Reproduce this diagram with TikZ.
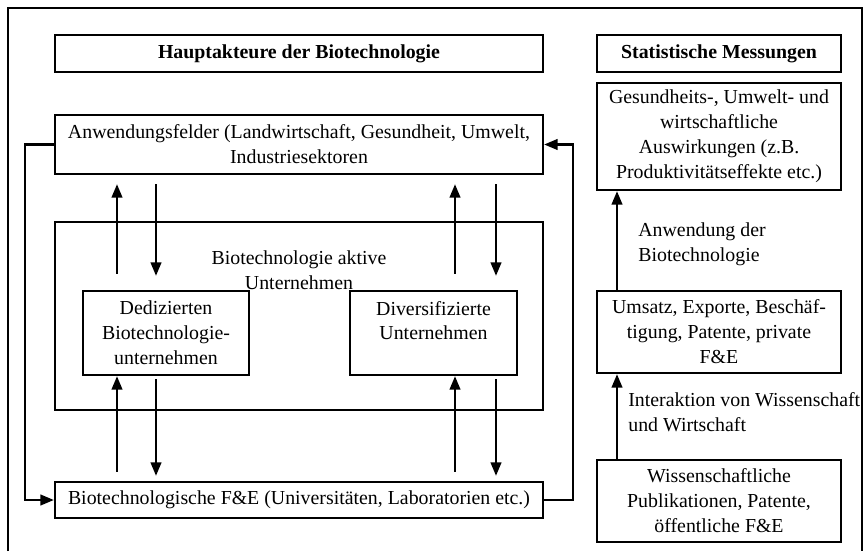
\documentclass[tikz,border=0pt]{standalone}
\usepackage{fontspec}
\setmainfont{Liberation Serif}
\usetikzlibrary{arrows.meta}
\tikzset{
  txt/.style={font=\fontsize{11.3}{14.2}\selectfont},
  box/.style={txt, draw, line width=1.3pt, align=center, inner sep=0pt},
  lbl/.style={txt, align=left, inner sep=0pt},
  arr/.style={line width=1.4pt, -{Triangle[length=0.27cm,width=0.21cm]}}
}
\begin{document}
\begin{tikzpicture}[x=0.02cm,y=-0.02cm]
\useasboundingbox (0,0) rectangle (865,551);
\draw[line width=1.4pt] (8,551) -- (8,8) -- (862,8) -- (862,551);
\node[box,minimum width=9.76cm,minimum height=0.74cm,font=\bfseries\fontsize{11.3}{14.2}\selectfont] (haupt) at (299,53.5) {Hauptakteure der Biotechnologie};
\node[box,minimum width=4.88cm,minimum height=0.74cm,font=\bfseries\fontsize{11.3}{14.2}\selectfont] (stat) at (719,53.5) {Statistische Messungen};
\node[box,minimum width=9.76cm,minimum height=1.18cm] (anw) at (299,144.5) {Anwendungsfelder (Landwirtschaft, Gesundheit, Umwelt,\\Industriesektoren};
\node[box,minimum width=9.76cm,minimum height=3.76cm] (aktiv) at (299,316) {};
\node[lbl,align=center] (aktlbl) at (299,270) {Biotechnologie aktive\\Unternehmen};
\node[box,minimum width=3.32cm,minimum height=1.68cm] (dedi) at (166,333) {Dedizierten\\Biotechnologie-\\unternehmen};
\node[box,minimum width=3.34cm,minimum height=1.68cm] (divers) at (433.5,333) {Diversifizierte\\Unternehmen\\\mbox{}};
\node[box,minimum width=9.76cm,minimum height=0.72cm] (fue) at (299,500) {Biotechnologische F\&E (Universitäten, Laboratorien etc.)};
\node[box,minimum width=4.88cm,minimum height=2.14cm] (ges) at (719,136.5) {Gesundheits-, Umwelt- und\\wirtschaftliche\\Auswirkungen (z.B.\\Produktivitätseffekte etc.)};
\node[box,minimum width=4.88cm,minimum height=1.64cm] (ums) at (719,332) {Umsatz, Exporte, Beschäf-\\tigung, Patente, private\\F\&E};
\node[box,minimum width=4.88cm,minimum height=1.64cm] (wiss) at (719,501) {Wissenschaftliche\\Publikationen, Patente,\\öffentliche F\&E};
\node[lbl,anchor=west] (anwlbl) at (638,244) {Anwendung der\\Biotechnologie};
\node[lbl,anchor=west] (iakt) at (628,412) {Interaktion von Wissenschaft\\und Wirtschaft};
\foreach \u/\d/\n in {117/156/dedi, 455/496/divers} {
  \draw[arr,shorten <=0.32cm,shorten >=0.18cm] (\u,0 |- \n.north) -- (\u,0 |- anw.south);
  \draw[arr,shorten <=0.18cm,shorten >=0.28cm] (\d,0 |- anw.south) -- (\d,0 |- \n.north);
  \draw[arr,shorten <=0.18cm] (\u,0 |- fue.north) -- (\u,0 |- \n.south);
  \draw[arr,shorten <=0.06cm,shorten >=0.1cm] (\d,0 |- \n.south) -- (\d,0 |- fue.north);
}
\draw[arr] (anw.west) -- ++(-29,0) |- (fue.west);
\draw[arr] (fue.east) -- ++(29,0) |- (anw.east);
\draw[arr] (617,0 |- ums.north) -- (617,0 |- ges.south);
\draw[arr] (617,0 |- wiss.north) -- (617,0 |- ums.south);
\end{tikzpicture}
\end{document}
